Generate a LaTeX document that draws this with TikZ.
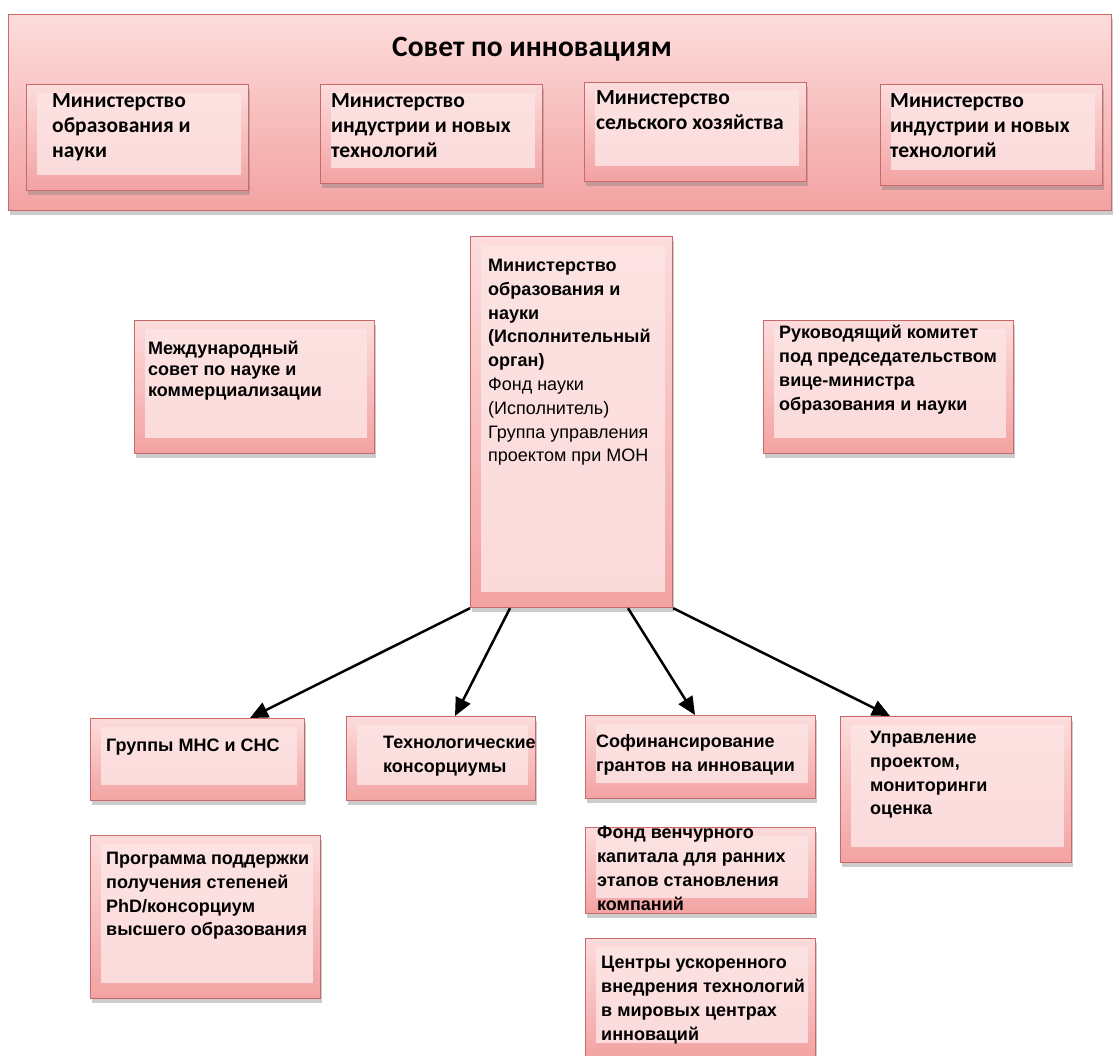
\documentclass[tikz,border=0pt]{standalone}
\usepackage{fontspec}
\setmainfont{Liberation Sans}
\newfontfamily\calib{Carlito}
\usetikzlibrary{arrows.meta,shadows,calc}
\definecolor{bordc}{HTML}{C96A6A}
\definecolor{topc}{HTML}{FDDCDC}
\definecolor{botc}{HTML}{F3A2A2}
\definecolor{innerc}{HTML}{FDE4E4}
\begin{document}
\begin{tikzpicture}[x=1pt,y=-1pt,
  pbox/.style={draw=bordc, line width=1.2pt, anchor=north west, inner sep=0pt,
    top color=topc, bottom color=botc,
    drop shadow={opacity=0.4, shadow xshift=1pt, shadow yshift=-4pt},
    path picture={\fill[innerc, opacity=0.85]
      ($(path picture bounding box.north west)+(10pt,-8pt)$) rectangle
      ($(path picture bounding box.south east)+(-8pt,16pt)$);}},
  bigbox/.style={draw=bordc, line width=1.2pt, anchor=north west, inner sep=0pt,
    top color=topc, bottom color=botc,
    drop shadow={opacity=0.4, shadow xshift=1pt, shadow yshift=-4pt}},
  atxt/.style={anchor=north west, inner sep=0pt, align=left,
    font=\fontsize{18}{23.8}\selectfont\bfseries},
  ctxt/.style={anchor=north west, inner sep=0pt, align=left,
    font=\calib\fontsize{21.5}{25}\selectfont\bfseries},
  arr/.style={line width=2.5pt, -{Triangle[length=18pt,width=16pt]}}
]
\useasboundingbox (0,0) rectangle (1113,1055);
% top council box
\node[bigbox, minimum width=1103pt, minimum height=196pt] (council) at (8,14) {};
\node[font=\calib\fontsize{29.5}{32}\selectfont\bfseries, inner sep=0pt] (title) at (532,49) {Совет по инновациям};
\node[pbox, minimum width=222pt, minimum height=106pt] (m1) at (26,84) {};
\node[ctxt] (m1t) at (52,93) {Министерство\\образования и\\науки};
\node[pbox, minimum width=222pt, minimum height=99pt] (m2) at (320,84) {};
\node[ctxt] (m2t) at (331,93) {Министерство\\индустрии и новых\\технологий};
\node[pbox, minimum width=222pt, minimum height=99pt] (m3) at (584,82) {};
\node[ctxt] (m3t) at (596,90) {Министерство\\сельского хозяйства};
\node[pbox, minimum width=222pt, minimum height=101pt] (m4) at (880,84) {};
\node[ctxt] (m4t) at (890,93) {Министерство\\индустрии и новых\\технологий};
% center
\node[pbox, minimum width=202pt, minimum height=371pt] (ctr) at (470,236) {};
\node[atxt] (ctrt) at (488,259) {Министерство\\образования и\\науки\\(Исполнительный\\орган)\\\mdseries Фонд науки\\\mdseries (Исполнитель)\\\mdseries Группа управления\\\mdseries проектом при МОН};
% side boxes
\node[pbox, minimum width=240pt, minimum height=133pt] (intl) at (134,320) {};
\node[atxt, font=\fontsize{18}{21}\selectfont\bfseries] (intlt) at (148,341) {Международный\\совет по науке и\\коммерциализации};
\node[pbox, minimum width=250pt, minimum height=133pt] (steer) at (763,320) {};
\node[atxt] (steert) at (779,325) {Руководящий комитет\\под председательством\\вице-министра\\образования и науки};
% bottom row
\node[pbox, minimum width=214pt, minimum height=82pt] (grp) at (90,718) {};
\node[atxt] (grpt) at (106,739) {Группы МНС и СНС};
\node[pbox, minimum width=189pt, minimum height=84pt] (tech) at (346,716) {};
\node[atxt] (techt) at (383,736) {Технологические\\консорциумы};
\node[pbox, minimum width=230pt, minimum height=83pt] (cofin) at (585,715) {};
\node[atxt] (cofint) at (596,734) {Софинансирование\\грантов на инновации};
\node[pbox, minimum width=231pt, minimum height=146pt] (mgmt) at (840,716) {};
\node[atxt] (mgmtt) at (870,731) {Управление\\проектом,\\мониторинги\\оценка};
\node[pbox, minimum width=230pt, minimum height=163pt] (phd) at (90,835) {};
\node[atxt] (phdt) at (106,852) {Программа поддержки\\получения степеней\\PhD/консорциум\\высшего образования};
\node[pbox, minimum width=230pt, minimum height=86pt] (vc) at (585,827) {};
\node[atxt] (vct) at (597,826) {Фонд венчурного\\капитала для ранних\\этапов становления\\компаний};
\node[pbox, minimum width=230pt, minimum height=120pt] (acc) at (585,938) {};
\node[atxt] (acct) at (601,956) {Центры ускоренного\\внедрения технологий\\в мировых центрах\\инноваций};
% arrows
\draw[arr] (ctr.south west) -- ($(grp.north west)+(160,0)$);
\draw[arr] ($(ctr.south west)+(40,0)$) -- ($(tech.north west)+(109,0)$);
\draw[arr] ($(ctr.south west)+(158,0)$) -- ($(cofin.north west)+(110,0)$);
\draw[arr] (ctr.south east) -- ($(mgmt.north west)+(50,0)$);
\end{tikzpicture}
\end{document}
